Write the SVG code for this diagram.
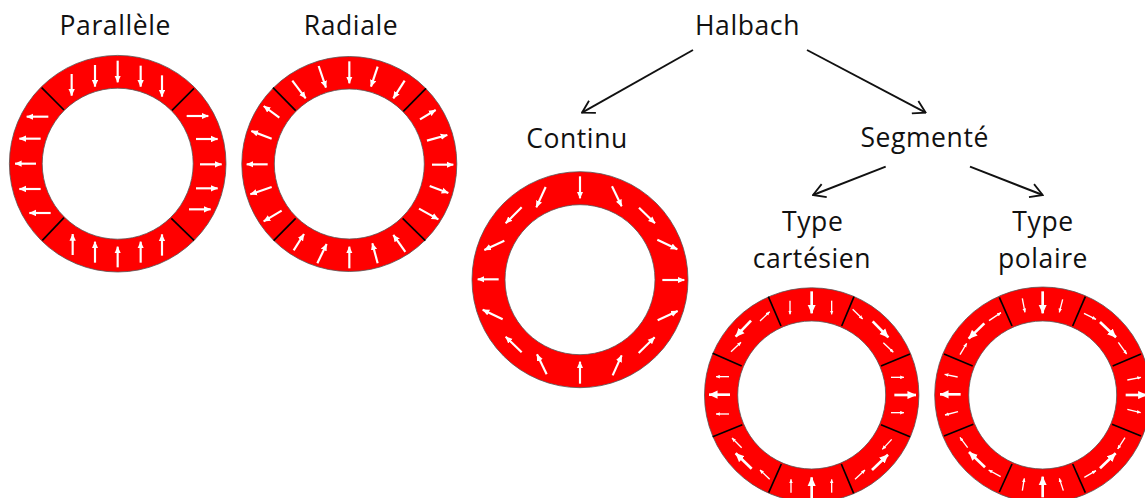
<svg xmlns="http://www.w3.org/2000/svg" width="1145" height="498" viewBox="0 0 1145 498">
<defs>
<marker id="w" markerUnits="userSpaceOnUse" viewBox="0 0 10 10" refX="9.5" refY="5" markerWidth="21" markerHeight="21" orient="auto"><path d="M0 .5L10 5L0 9.5z" fill="#fff"/></marker>
<marker id="t" markerUnits="userSpaceOnUse" viewBox="0 0 10 10" refX="9.5" refY="5" markerWidth="27" markerHeight="27" orient="auto"><path d="M0 .5L10 5L0 9.5z" fill="#fff"/></marker>
<marker id="s" markerUnits="userSpaceOnUse" viewBox="0 0 10 10" refX="9.5" refY="5" markerWidth="12" markerHeight="12" orient="auto"><path d="M0 .5L10 5L0 9.5z" fill="#fff"/></marker>
<marker id="o" markerUnits="userSpaceOnUse" viewBox="0 0 16 16" refX="15" refY="8" markerWidth="16" markerHeight="16" orient="auto"><path d="M3 1L15 8L3 15" fill="none" stroke="#111" stroke-width="1.8"/></marker>
</defs>
<style>
text{font-family:"Open Sans","Liberation Sans",sans-serif;font-size:26.5px;letter-spacing:.6px;fill:#111;text-anchor:middle}
.ring{fill:#f00;stroke:#555;stroke-width:.8}
.hole{fill:#fff;stroke:#555;stroke-width:.8}
.sep line{stroke:#000;stroke-width:5}
.big line{stroke:#fff;stroke-width:6.5;marker-end:url(#w)}
.thick line{stroke:#fff;stroke-width:8;marker-end:url(#t)}
.small line{stroke:#fff;stroke-width:4;marker-end:url(#s)}
#connectors line{stroke:#111;stroke-width:1.9;marker-end:url(#o)}
</style>
<g id="connectors">
<line x1="693" y1="50" x2="582" y2="112.7"/>
<line x1="807" y1="50" x2="925.7" y2="112.7"/>
<line x1="885.7" y1="166.7" x2="813" y2="195"/>
<line x1="970" y1="166.7" x2="1042.7" y2="195"/>
</g>
<g id="node-parallele">
<text x="115.3" y="35">Parallèle</text>
<circle class="ring" cx="117.7" cy="163.7" r="108.3"/><circle class="hole" cx="117.7" cy="163.7" r="75.5"/>
<g transform="translate(0,50) scale(.33333)">
<g class="sep"><line x1="125" y1="113" x2="192" y2="180"/><line x1="582" y1="115" x2="516" y2="181"/><line x1="192" y1="503" x2="127" y2="571"/><line x1="514" y1="505" x2="582" y2="571"/></g>
<g class="big">
<line x1="215" y1="72" x2="215" y2="137"/><line x1="285" y1="45" x2="285" y2="110"/><line x1="353" y1="32" x2="353" y2="97"/><line x1="422" y1="47" x2="422" y2="110"/><line x1="486" y1="76" x2="486" y2="140"/>
<line x1="560" y1="198" x2="625" y2="198"/><line x1="588" y1="267" x2="653" y2="267"/><line x1="600" y1="343" x2="665" y2="343"/><line x1="588" y1="415" x2="653" y2="415"/><line x1="567" y1="478" x2="632" y2="478"/>
<line x1="218" y1="615" x2="218" y2="552"/><line x1="285" y1="638" x2="285" y2="575"/><line x1="353" y1="652" x2="353" y2="590"/><line x1="422" y1="638" x2="422" y2="575"/><line x1="486" y1="617" x2="486" y2="553"/>
<line x1="145" y1="200" x2="80" y2="200"/><line x1="122" y1="266" x2="58" y2="266"/><line x1="108" y1="341" x2="45" y2="341"/><line x1="122" y1="417" x2="58" y2="417"/><line x1="152" y1="489" x2="88" y2="489"/>
</g></g>
</g>
<g id="node-radiale">
<text x="351" y="35">Radiale</text>
<circle class="ring" cx="349.3" cy="164" r="107.5"/><circle class="hole" cx="349.3" cy="164" r="75"/>
<g transform="translate(235,50) scale(.33333)">
<g class="sep"><line x1="114" y1="113" x2="182" y2="182"/><line x1="573" y1="115" x2="505" y2="184"/><line x1="182" y1="505" x2="116" y2="572"/><line x1="503" y1="505" x2="571" y2="572"/></g>
<g class="big">
<line x1="172" y1="92" x2="212" y2="145"/><line x1="251" y1="48" x2="273" y2="113"/><line x1="343" y1="34" x2="343" y2="100"/><line x1="428" y1="50" x2="408" y2="110"/><line x1="509" y1="92" x2="475" y2="145"/>
<line x1="555" y1="208" x2="602" y2="180"/><line x1="576" y1="272" x2="637" y2="255"/><line x1="591" y1="344" x2="655" y2="344"/><line x1="584" y1="408" x2="640" y2="429"/><line x1="552" y1="476" x2="610" y2="508"/>
<line x1="176" y1="601" x2="207" y2="552"/><line x1="247" y1="640" x2="275" y2="582"/><line x1="343" y1="655" x2="343" y2="590"/><line x1="428" y1="640" x2="412" y2="580"/><line x1="511" y1="606" x2="475" y2="555"/>
<line x1="133" y1="203" x2="86" y2="168"/><line x1="110" y1="266" x2="49" y2="243"/><line x1="98" y1="343" x2="35" y2="343"/><line x1="110" y1="411" x2="46" y2="433"/><line x1="140" y1="482" x2="86" y2="514"/>
</g></g>
</g>
<g id="node-halbach"><text x="747.5" y="35">Halbach</text></g>
<g id="node-continu">
<text x="577" y="148">Continu</text>
<circle class="ring" cx="580" cy="279.7" r="108"/><circle class="hole" cx="580" cy="279.7" r="75"/>
<g transform="translate(465,165) scale(.33333)"><g class="big">
<line x1="345" y1="34" x2="345" y2="100"/><line x1="441" y1="64" x2="470" y2="124"/><line x1="522" y1="128" x2="570" y2="175"/><line x1="577" y1="224" x2="637" y2="253"/><line x1="592" y1="345" x2="658" y2="345"/><line x1="578" y1="466" x2="638" y2="438"/><line x1="521" y1="564" x2="569" y2="517"/><line x1="443" y1="631" x2="470" y2="571"/><line x1="345" y1="656" x2="345" y2="590"/><line x1="245" y1="628" x2="216" y2="568"/><line x1="170" y1="562" x2="122" y2="515"/><line x1="113" y1="463" x2="53" y2="434"/><line x1="101" y1="343" x2="38" y2="343"/><line x1="118" y1="227" x2="58" y2="255"/><line x1="170" y1="127" x2="122" y2="175"/><line x1="242" y1="66" x2="214" y2="127"/>
</g></g>
</g>
<g id="node-segmente"><text x="924.7" y="147">Segmenté</text></g>
<g id="node-cartesien">
<text x="812.7" y="230.5">Type</text><text x="812" y="268">cartésien</text>
<circle class="ring" cx="811.7" cy="395" r="107.2"/><circle class="hole" cx="811.7" cy="395" r="74"/>
<g transform="translate(700,280) scale(.33333)">
<g class="sep"><line x1="205" y1="50" x2="243" y2="138"/><line x1="462" y1="50" x2="425" y2="138"/><line x1="630" y1="222" x2="543" y2="258"/><line x1="630" y1="470" x2="543" y2="434"/><line x1="461" y1="640" x2="424" y2="552"/><line x1="206" y1="638" x2="244" y2="552"/><line x1="38" y1="470" x2="127" y2="434"/><line x1="38" y1="220" x2="125" y2="258"/></g>
<g class="thick"><line x1="335" y1="34" x2="335" y2="100"/><line x1="518" y1="124" x2="565" y2="172"/><line x1="583" y1="345" x2="648" y2="345"/><line x1="516" y1="570" x2="564" y2="524"/><line x1="335" y1="654" x2="335" y2="592"/><line x1="155" y1="566" x2="107" y2="520"/><line x1="90" y1="344" x2="27" y2="344"/><line x1="153" y1="122" x2="107" y2="170"/></g>
<g class="small"><line x1="270" y1="62" x2="270" y2="103"/><line x1="395" y1="62" x2="395" y2="103"/><line x1="458" y1="88" x2="488" y2="117"/><line x1="550" y1="188" x2="580" y2="217"/><line x1="573" y1="292" x2="612" y2="292"/><line x1="573" y1="398" x2="612" y2="398"/><line x1="575" y1="478" x2="547" y2="508"/><line x1="465" y1="598" x2="495" y2="570"/><line x1="395" y1="638" x2="395" y2="598"/><line x1="273" y1="638" x2="273" y2="598"/><line x1="209" y1="598" x2="180" y2="570"/><line x1="125" y1="503" x2="96" y2="474"/><line x1="87" y1="402" x2="48" y2="402"/><line x1="87" y1="290" x2="48" y2="290"/><line x1="93" y1="215" x2="123" y2="187"/><line x1="180" y1="123" x2="209" y2="95"/></g>
</g>
</g>
<g id="node-polaire">
<text x="1043" y="230.5">Type</text><text x="1043" y="268">polaire</text>
<circle class="ring" cx="1042.7" cy="395" r="108"/><circle class="hole" cx="1042.7" cy="395" r="74"/>
<g transform="translate(930,280) scale(.33333)">
<g class="sep"><line x1="208" y1="52" x2="246" y2="138"/><line x1="466" y1="50" x2="428" y2="138"/><line x1="633" y1="222" x2="548" y2="258"/><line x1="633" y1="468" x2="546" y2="433"/><line x1="466" y1="638" x2="428" y2="552"/><line x1="208" y1="636" x2="246" y2="552"/><line x1="42" y1="468" x2="130" y2="433"/><line x1="42" y1="222" x2="128" y2="258"/></g>
<g class="thick"><line x1="338" y1="34" x2="338" y2="100"/><line x1="510" y1="126" x2="558" y2="172"/><line x1="587" y1="345" x2="650" y2="345"/><line x1="510" y1="565" x2="557" y2="520"/><line x1="338" y1="652" x2="338" y2="590"/><line x1="165" y1="562" x2="117" y2="516"/><line x1="92" y1="343" x2="30" y2="343"/><line x1="163" y1="130" x2="116" y2="176"/></g>
<g class="small"><line x1="277" y1="55" x2="285" y2="97"/><line x1="398" y1="58" x2="388" y2="97"/><line x1="462" y1="100" x2="498" y2="118"/><line x1="565" y1="187" x2="590" y2="222"/><line x1="592" y1="300" x2="633" y2="292"/><line x1="592" y1="388" x2="632" y2="398"/><line x1="585" y1="473" x2="563" y2="507"/><line x1="463" y1="592" x2="498" y2="572"/><line x1="400" y1="632" x2="388" y2="595"/><line x1="277" y1="632" x2="283" y2="595"/><line x1="212" y1="590" x2="176" y2="570"/><line x1="113" y1="503" x2="90" y2="472"/><line x1="84" y1="395" x2="45" y2="405"/><line x1="83" y1="291" x2="44" y2="283"/><line x1="90" y1="224" x2="110" y2="190"/><line x1="177" y1="122" x2="213" y2="98"/></g>
</g>
</g>
</svg>
